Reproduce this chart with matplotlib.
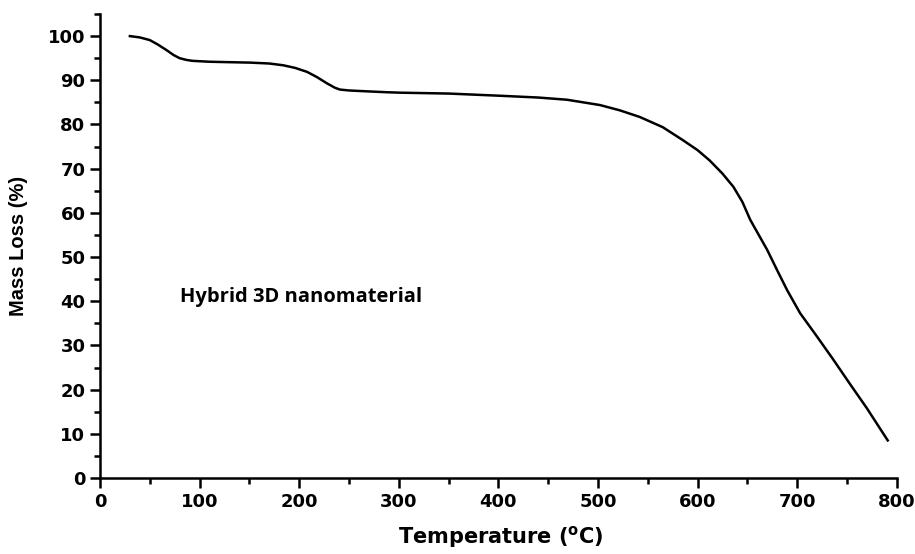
import matplotlib
matplotlib.use("Agg")
import matplotlib.pyplot as plt
from matplotlib.ticker import MultipleLocator

# values
temperature = [30, 40, 50, 58, 67, 74, 80, 87, 93, 110, 130, 151, 170, 184,
               196, 208, 218, 228, 236, 241, 250, 268, 288, 301, 350, 402,
               440, 469, 502, 522, 542, 565, 585, 600, 612, 625, 636, 645,
               653, 662, 670, 680, 690, 703, 720, 736, 753, 770, 791]
mass = [100.0, 99.7, 99.1, 98.1, 96.8, 95.7, 95.0, 94.6, 94.4, 94.2, 94.1,
        94.0, 93.8, 93.4, 92.8, 91.9, 90.7, 89.3, 88.3, 87.9, 87.7, 87.5,
        87.3, 87.2, 87.0, 86.5, 86.1, 85.6, 84.4, 83.2, 81.7, 79.4, 76.5,
        74.2, 71.9, 68.9, 65.9, 62.5, 58.4, 54.8, 51.6, 47.0, 42.5, 37.3,
        32.0, 26.9, 21.3, 15.8, 8.5]

plt.rcParams['font.family'] = ['Liberation Sans', 'DejaVu Sans']

fig = plt.figure(figsize=(9.15, 5.54), dpi=100)
ax = fig.add_axes([0.1093, 0.1372, 0.8707, 0.8375])

ax.plot(temperature, mass, color="black", linewidth=1.8)

ax.set_xlim(0, 800)
ax.set_ylim(0, 105)
ax.xaxis.set_major_locator(MultipleLocator(100))
ax.xaxis.set_minor_locator(MultipleLocator(50))
ax.yaxis.set_major_locator(MultipleLocator(10))
ax.yaxis.set_minor_locator(MultipleLocator(5))
ax.set_yticks(range(0, 101, 10))

for s in ['top', 'right']:
    ax.spines[s].set_visible(False)
for s in ['left', 'bottom']:
    ax.spines[s].set_linewidth(1.8)

ax.tick_params(which='major', direction='out', length=7, width=1.8, labelsize=13)
ax.tick_params(which='minor', direction='out', length=4.5, width=1.8)
for lab in ax.get_xticklabels() + ax.get_yticklabels():
    lab.set_fontweight('bold')
    lab.set_family('DejaVu Sans')

ax.set_xlabel('Temperature ($^{\\mathbf{o}}$C)', fontsize=15, fontweight='bold',
              family='DejaVu Sans')
ax.xaxis.set_label_coords(0.503, -0.1)
ax.set_ylabel('Mass Loss (%)', fontsize=14.5, fontweight='bold')
ax.yaxis.set_label_coords(-0.091, 0.5)

ax.text(80, 41, 'Hybrid 3D nanomaterial', fontsize=14.5, fontweight='bold',
        family=['Open Sans', 'DejaVu Sans'], va='center', ha='left')

fig.savefig("out.png", dpi=100)
